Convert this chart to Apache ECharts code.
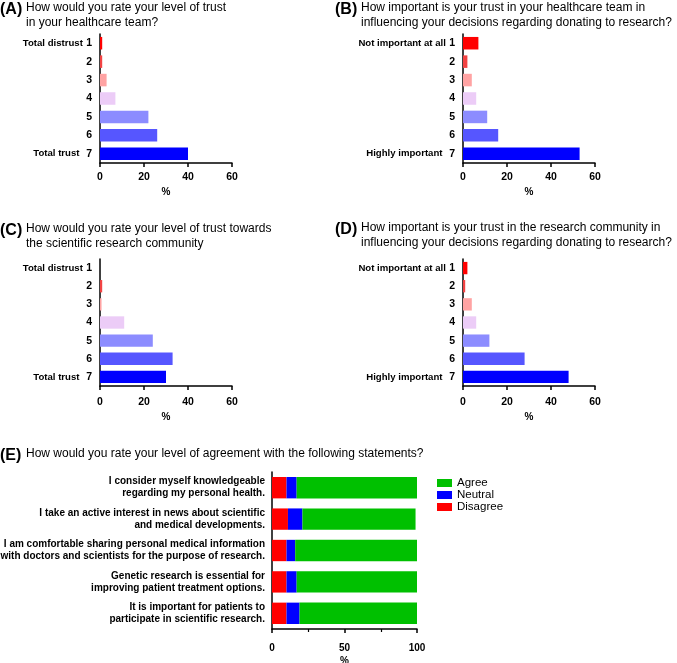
<!DOCTYPE html>
<html>
<head>
<meta charset="utf-8">
<script src="https://cdn.jsdelivr.net/npm/echarts@6.0.0/dist/echarts.min.js"></script>
<style>
  html, body { margin: 0; padding: 0; background: #fff; }
  #chart { width: 677px; height: 663px; }
</style>
</head>
<body>
<div id="chart"></div>
<script>
// rating scale 1..7 (panels A-D)
const ratingCats = ['1', '2', '3', '4', '5', '6', '7'];
const trustEnds = ['Total distrust', 'Total trust'];
const importEnds = ['Not important at all', 'Highly important'];

const trustTeam = [1, 1, 3, 7, 22, 26, 40];           // (A)
const importTeam = [7, 2, 4, 6, 11, 16, 53];          // (B)
const trustResearch = [0, 1, 0.7, 11, 24, 33, 30];    // (C)
const importResearch = [2, 1, 4, 6, 12, 28, 48];      // (D)

const barColors = ['#ff0000', '#f24343', '#ffa3a3', '#ecccf7', '#8c8cff', '#5656ff', '#0000ff'];

// panel E
const statements = [
  'I consider myself knowledgeable\nregarding my personal health.',
  'I take an active interest in news about scientific\nand medical developments.',
  'I am comfortable sharing personal medical information\nwith doctors and scientists for the purpose of research.',
  'Genetic research is essential for\nimproving patient treatment options.',
  'It is important for patients to\nparticipate in scientific research.'
];
const disagree = [10, 11, 10, 10, 10];
const neutral = [7, 10, 6, 7, 9];
const agree = [83, 78, 84, 83, 81];

const FONT = '"Liberation Sans", Arial, sans-serif';

const chart = echarts.init(document.getElementById('chart'), null, { renderer: 'canvas' });

const axisLineStyle = { color: '#000', width: 1.5 };

function ratingYAxis(gridIndex, ends) {
  return {
    type: 'category',
    gridIndex: gridIndex,
    data: ratingCats,
    inverse: true,
    axisLine: { lineStyle: axisLineStyle },
    axisTick: { alignWithLabel: true, length: 5, lineStyle: axisLineStyle },
    axisLabel: {
      margin: 8,
      fontFamily: FONT,
      formatter: function (v, i) {
        if (i === 0) return '{t|' + ends[0] + '} {n|' + v + '}';
        if (i === ratingCats.length - 1) return '{t|' + ends[1] + '}  {n|' + v + '}';
        return '{n|' + v + '}';
      },
      rich: {
        t: { fontFamily: FONT, fontWeight: 'bold', fontSize: 9.6, color: '#000' },
        n: { fontFamily: FONT, fontWeight: 'bold', fontSize: 10.5, color: '#000' }
      }
    }
  };
}

function ratingXAxis(gridIndex, labelMargin, nameGap) {
  return {
    type: 'value',
    gridIndex: gridIndex,
    min: 0,
    max: 60,
    interval: 20,
    name: '%',
    nameLocation: 'middle',
    nameGap: nameGap,
    nameTextStyle: { fontFamily: FONT, fontWeight: 'bold', fontSize: 10, color: '#000' },
    splitLine: { show: false },
    axisLine: { show: true, lineStyle: axisLineStyle },
    axisTick: { show: true, length: 4, lineStyle: axisLineStyle },
    axisLabel: { margin: labelMargin, fontFamily: FONT, fontWeight: 'bold', fontSize: 10.5, color: '#000' }
  };
}

function ratingSeries(values, idx) {
  return {
    type: 'bar',
    xAxisIndex: idx,
    yAxisIndex: idx,
    barCategoryGap: '32%',
    silent: true,
    data: values.map((v, i) => ({ value: v, itemStyle: { color: barColors[i] } }))
  };
}

function stackSeries(name, values, color) {
  return {
    name: name,
    type: 'bar',
    stack: 'agreement',
    xAxisIndex: 4,
    yAxisIndex: 4,
    barCategoryGap: '32%',
    silent: true,
    itemStyle: { color: color },
    data: values
  };
}

function panelTitle(letter, question, left, qLeft, top) {
  return [
    {
      text: letter, left: left, top: top + 2, padding: 0,
      textStyle: { fontFamily: FONT, fontWeight: 'bold', fontSize: 16, color: '#000' }
    },
    {
      text: question, left: qLeft, top: top, padding: 0,
      textStyle: { fontFamily: FONT, fontWeight: 'normal', fontSize: 12, lineHeight: 15, color: '#000' }
    }
  ];
}

chart.setOption({
  animation: false,
  title: [].concat(
    panelTitle('(A)', 'How would you rate your level of trust\nin your healthcare team?', 0, 26, 0),
    panelTitle('(B)', 'How important is your trust in your healthcare team in\ninfluencing your decisions regarding donating to research?', 335, 361, 0),
    panelTitle('(C)', 'How would you rate your level of trust towards\nthe scientific research community', 0, 26, 221),
    panelTitle('(D)', 'How important is your trust in the research community in\ninfluencing your decisions regarding donating to research?', 335, 361, 220),
    [
      { text: '(E)', left: 0, top: 448, padding: 0,
        textStyle: { fontFamily: FONT, fontWeight: 'bold', fontSize: 16, color: '#000' } },
      { text: 'How would you rate your level of agreement with the following statements?', left: 26, top: 448, padding: 0,
        textStyle: { fontFamily: FONT, fontWeight: 'normal', fontSize: 12, color: '#000' } }
    ]
  ),
  legend: {
    orient: 'vertical',
    left: 437,
    top: 477,
    padding: 0,
    itemWidth: 15,
    itemHeight: 8,
    itemGap: 0,
    icon: 'rect',
    data: ['Agree', 'Neutral', 'Disagree'],
    textStyle: { fontFamily: FONT, fontSize: 11.5, lineHeight: 12, color: '#000' }
  },
  grid: [
    { left: 100, top: 34, width: 132, height: 129, outerBoundsMode: 'none' },
    { left: 463, top: 34, width: 132, height: 129, outerBoundsMode: 'none' },
    { left: 100, top: 259, width: 132, height: 127, outerBoundsMode: 'none' },
    { left: 463, top: 259, width: 132, height: 127, outerBoundsMode: 'none' },
    { left: 272, top: 472, width: 145, height: 157, outerBoundsMode: 'none' }
  ],
  xAxis: [
    ratingXAxis(0, 9, 24),
    ratingXAxis(1, 9, 24),
    ratingXAxis(2, 11, 26),
    ratingXAxis(3, 11, 26),
    {
      type: 'value',
      gridIndex: 4,
      min: 0,
      max: 100,
      interval: 50,
      name: '%',
      nameLocation: 'middle',
      nameGap: 27,
      nameTextStyle: { fontFamily: FONT, fontWeight: 'bold', fontSize: 10, color: '#000' },
      splitLine: { show: false },
      axisLine: { show: true, lineStyle: axisLineStyle },
      axisTick: { show: true, length: 4, lineStyle: axisLineStyle },
      minorTick: { show: true, splitNumber: 2, length: 3, lineStyle: { color: '#000', width: 1.2 } },
      minorSplitLine: { show: false },
      axisLabel: { margin: 14, fontFamily: FONT, fontWeight: 'bold', fontSize: 10, color: '#000' }
    }
  ],
  yAxis: [
    ratingYAxis(0, trustEnds),
    ratingYAxis(1, importEnds),
    ratingYAxis(2, trustEnds),
    ratingYAxis(3, importEnds),
    {
      type: 'category',
      gridIndex: 4,
      data: statements,
      inverse: true,
      axisLine: { lineStyle: axisLineStyle },
      axisTick: { alignWithLabel: true, length: 4, lineStyle: axisLineStyle },
      axisLabel: {
        margin: 7,
        fontFamily: FONT,
        fontWeight: 'bold',
        fontSize: 10,
        lineHeight: 12,
        align: 'right',
        color: '#000'
      }
    }
  ],
  series: [
    ratingSeries(trustTeam, 0),
    ratingSeries(importTeam, 1),
    ratingSeries(trustResearch, 2),
    ratingSeries(importResearch, 3),
    stackSeries('Disagree', disagree, '#ff0000'),
    stackSeries('Neutral', neutral, '#0000ff'),
    stackSeries('Agree', agree, '#00c000')
  ]
});
</script>
</body>
</html>
